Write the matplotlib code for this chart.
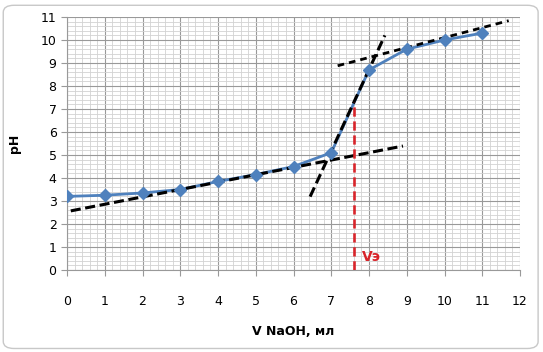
import matplotlib.pyplot as plt
from matplotlib.patches import FancyBboxPatch
from matplotlib.ticker import MultipleLocator

# ---------------------- данные ----------------------
v_naoh = [0, 1, 2, 3, 4, 5, 6, 7, 8, 9, 10, 11]
ph = [3.2, 3.25, 3.35, 3.5, 3.85, 4.15, 4.5, 5.1, 8.7, 9.6, 10.0, 10.3]

# касательные (пунктир)
low_x, low_y = [0.1, 8.9], [2.57, 5.39]
steep_x, steep_y = [6.44, 8.42], [3.19, 10.2]
up_x, up_y = [7.17, 11.7], [8.88, 10.84]

# точка эквивалентности
v_eq = 7.61
ph_eq = 7.32

fig = plt.figure(figsize=(5.43, 3.52), dpi=100)
fig.patches.append(FancyBboxPatch((0.006, 0.01), 0.985, 0.975, boxstyle="round,pad=0,rounding_size=0.02",
                                  transform=fig.transFigure, fc='white', ec='#c8c8c8', lw=1.0, zorder=-1))

ax = fig.add_axes([67 / 543, 1 - 270 / 352, 453 / 543, 253 / 352])
ax.set_xlim(0, 12)
ax.set_ylim(0, 11)
ax.xaxis.set_major_locator(MultipleLocator(1))
ax.yaxis.set_major_locator(MultipleLocator(1))
ax.xaxis.set_minor_locator(MultipleLocator(0.2))
ax.yaxis.set_minor_locator(MultipleLocator(0.2))
ax.grid(which='major', color='#999999', lw=0.8)
ax.grid(which='minor', color='#d2d2d2', lw=0.6)
ax.set_axisbelow(True)
for s in ['top', 'right']:
    ax.spines[s].set_visible(False)
ax.spines['left'].set_color('#999999')
ax.spines['bottom'].set_color('#999999')
ax.tick_params(which='minor', length=0)
ax.tick_params(which='major', length=4, color='#999999', labelsize=9)
ax.tick_params(axis='x', pad=14)

ax.plot(v_naoh, ph, color='#4f81bd', lw=2, zorder=3)
ax.plot(low_x, low_y, color='black', ls=(0, (3.3, 1.5)), lw=2.2, zorder=4)
ax.plot(steep_x, steep_y, color='black', ls=(0, (3.3, 1.5)), lw=2.2, zorder=4)
ax.plot(up_x, up_y, color='black', ls=(0, (2.4, 1.8)), lw=2.0, zorder=4)
ax.plot([v_eq, v_eq], [0, ph_eq], color='#d8242a', ls=(0, (3.5, 1.8)), lw=1.9, zorder=4)
ax.plot(v_naoh, ph, ls='none', marker='D', ms=6, mfc='#4f81bd', mec='#4f81bd', zorder=5)

ax.text(7.8, 0.25, 'Vэ', color='#d8242a', fontsize=10, fontweight='bold', ha='left', va='bottom')

ax.set_xlabel('V NaOH, мл', fontsize=9, fontweight='bold', labelpad=12)
ax.set_ylabel('pH', fontsize=9, fontweight='bold', labelpad=14)

fig.savefig('out.png', dpi=100)
